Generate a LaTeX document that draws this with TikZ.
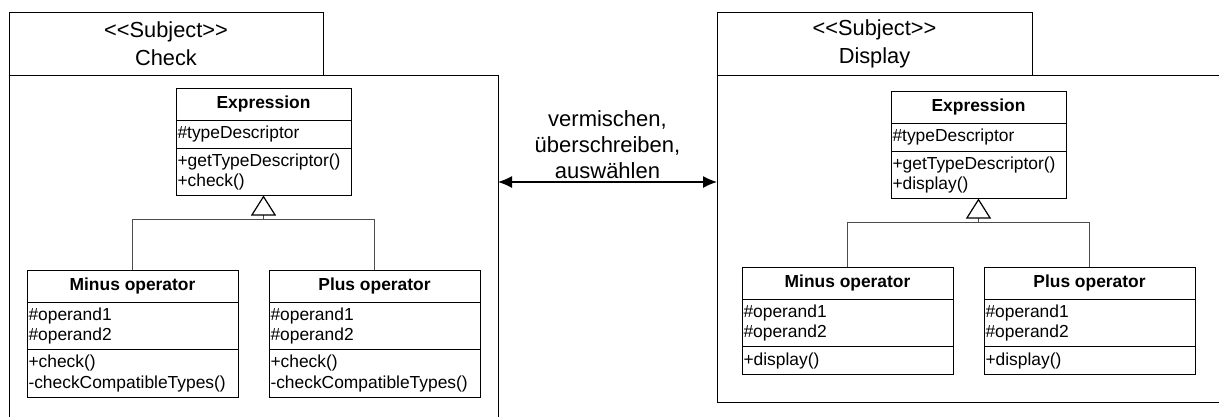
\documentclass[tikz,border=0pt]{standalone}
\usepackage{fontspec}
\setmainfont{Liberation Sans}
\usetikzlibrary{positioning,arrows.meta}

\begin{document}
\begin{tikzpicture}[x=1pt,y=-1pt,
  cname/.style={draw,line width=1pt,outer sep=0pt,inner sep=0pt,minimum width=#1,minimum height=32pt,
    font=\fontsize{17.4}{20.5}\selectfont\bfseries},
  cpart/.style={draw,line width=1pt,outer sep=0pt,inner xsep=1.5pt,inner ysep=0pt,text width=#1,align=left,
    font=\fontsize{17.4}{20.5}\selectfont},
  one/.style={minimum height=28pt},
  two/.style={minimum height=47.5pt},
  tab/.style={draw,line width=1pt,outer sep=0pt,minimum width=314pt,minimum height=63pt,align=center,
    font=\fontsize{21.8}{28}\selectfont},
  pkg/.style={draw,line width=1pt,outer sep=0pt,inner sep=0pt},
  mix/.style={align=center,inner sep=3pt,font=\fontsize{22}{26}\selectfont},
  gen/.style={draw=black!70,line width=0.8pt},
  inherit/.style={gen,-{Triangle[open,length=20pt,width=25pt,line width=1.2pt,color=black]}},
  both/.style={line width=1.2pt,{Latex[length=14pt,width=12pt]}-{Latex[length=14pt,width=12pt]}}
]
\useasboundingbox (0,0) rectangle (1219,416);

\node[pkg,anchor=north west,minimum width=489pt,minimum height=350pt] (b1) at (9,75) {};
\node[tab,anchor=north west] (t1) at (9,12) {<{}<Subject>{}>\\Check};
\node[pkg,anchor=north west,minimum width=520pt,minimum height=327pt] (b2) at (717,75) {};
\node[tab,anchor=north west,minimum width=315pt] (t2) at (717,12) {<{}<Subject>{}>\\Display};

\node[cname=175pt,anchor=north west] (e1) at (176,88) {Expression};
\node[cpart=172pt,one,below=0pt of e1] (e1a) {\#typeDescriptor};
\node[cpart=172pt,two,below=0pt of e1a] (e1o) {+getTypeDescriptor()\\+check()};

\node[cname=211pt,anchor=north west] (m1) at (27,270) {Minus operator};
\node[cpart=208pt,two,below=0pt of m1] (m1a) {\#operand1\\\#operand2};
\node[cpart=208pt,two,below=0pt of m1a] (m1o) {+check()\\-checkCompatibleTypes()};

\node[cname=211pt,anchor=north west] (p1) at (269,270) {Plus operator};
\node[cpart=208pt,two,below=0pt of p1] (p1a) {\#operand1\\\#operand2};
\node[cpart=208pt,two,below=0pt of p1a] (p1o) {+check()\\-checkCompatibleTypes()};

\node[cname=175pt,anchor=north west] (e2) at (891,91) {Expression};
\node[cpart=172pt,one,below=0pt of e2] (e2a) {\#typeDescriptor};
\node[cpart=172pt,two,below=0pt of e2a] (e2o) {+getTypeDescriptor()\\+display()};

\node[cname=211pt,anchor=north west] (m2) at (742,267) {Minus operator};
\node[cpart=208pt,two,below=0pt of m2] (m2a) {\#operand1\\\#operand2};
\node[cpart=208pt,one,below=0pt of m2a] (m2o) {+display()};

\node[cname=211pt,anchor=north west] (p2) at (984,267) {Plus operator};
\node[cpart=208pt,two,below=0pt of p2] (p2a) {\#operand1\\\#operand2};
\node[cpart=208pt,one,below=0pt of p2a] (p2o) {+display()};

\coordinate (bar1) at (0,219);
\coordinate (bar2) at (0,222);
\draw[gen] (m1.north) |- (p1.north |- bar1) -- (p1.north);
\draw[inherit] (e1o.south |- bar1) -- (e1o.south);
\draw[gen] (m2.north) |- (p2.north |- bar2) -- (p2.north);
\draw[inherit] (e2o.south |- bar2) -- (e2o.south);

\coordinate (ay) at (0,182);
\draw[both] (b1.east |- ay) -- node[above,mix] (mx) {vermischen,\\überschreiben,\\auswählen} (b2.west |- ay);
\end{tikzpicture}
\end{document}
